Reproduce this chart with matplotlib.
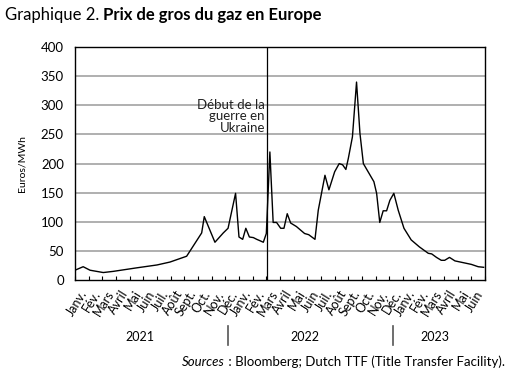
import matplotlib.pyplot as plt
from matplotlib.lines import Line2D

plt.rcParams['font.family'] = ['Lato', 'DejaVu Sans']

# months since Jan 2021 (fractional) and price in euros/MWh
month_pos = [0.1, 0.6, 1.1, 2.07, 2.8, 4.5, 6.0, 6.95, 8.17, 9.27, 9.46, 10.24, 10.85,
             11.2, 11.75, 12.0, 12.27, 12.5, 12.76, 13.05, 13.3, 13.5, 13.78, 14.0,
             14.26, 14.5, 14.75, 15.05, 15.29, 15.53, 15.78, 16.2, 16.8, 17.1, 17.56,
             17.8, 18.29, 18.58, 19.0, 19.33, 19.58, 19.82, 20.0, 20.3, 20.6, 20.85,
             21.1, 21.87, 22.07, 22.3, 22.55, 22.8, 23.04, 23.33, 23.65, 24.07, 24.6,
             25.2, 25.85, 26.1, 26.45, 26.8, 27.05, 27.4, 27.8, 28.4, 29.0, 29.5, 29.9]
prices = [18, 23, 17, 13, 15, 21, 26, 31, 41, 81, 109, 65, 81,
          89, 149, 74, 70, 89, 74, 73, 70, 68, 65, 80,
          220, 99, 99, 89, 89, 114, 98, 92, 80, 78, 70,
          120, 180, 155, 186, 200, 198, 190, 209, 246, 340, 252,
          200, 169, 149, 99, 119, 119, 137, 149, 120, 89, 69,
          57, 46, 45, 39, 34, 34, 39, 33, 30, 27, 23, 22]

months = ["Janv.", "Fév.", "Mars", "Avril", "Mai", "Juin", "Juil.", "Août",
          "Sept.", "Oct.", "Nov.", "Déc."]
month_labels = months + months + months[:6]
years = ["2021", "2022", "2023"]
year_pos = [4.75, 16.8, 26.3]
year_sep = [11.2, 23.3]
war_start = 14.05

fig = plt.figure(figsize=(5.10, 3.77), dpi=100)
ax = fig.add_axes([0.147, 0.257, 0.804, 0.618])

for yv in range(50, 400, 50):
    ax.axhline(yv, color="#9a9a9a", lw=1.1, zorder=1)
ax.plot(month_pos, prices, color="black", lw=1.0, zorder=3)
ax.axvline(war_start, color="black", lw=0.9, zorder=2)
ax.text(war_start - 0.15, 281, "Début de la\nguerre en\nUkraine", ha="right", va="center",
        multialignment="right", fontsize=9.5, linespacing=0.95, color="#222222")

ax.set_xlim(0, 30)
ax.set_ylim(0, 400)
ax.set_yticks(range(0, 401, 50))
ax.tick_params(axis="y", length=0, labelsize=9.5, pad=8)
ax.set_xticks(range(0, 31))
ax.set_xticklabels([])
ax.tick_params(axis="x", direction="in", length=3, width=0.8)
ax.set_ylabel("Euros/MWh", fontsize=7.5, labelpad=10)
for sp in ax.spines.values():
    sp.set_linewidth(1.0)

tr = ax.get_xaxis_transform()
for i, lab in enumerate(month_labels):
    ax.text(i + 0.3, -0.035, lab, transform=tr, rotation=58, ha="right", va="top",
            rotation_mode="anchor", fontsize=9)
for lab, xp in zip(years, year_pos):
    ax.text(xp, -0.245, lab, transform=tr, ha="center", va="center", fontsize=9)
for xp in year_sep:
    ax.add_line(Line2D([xp, xp], [-0.195, -0.28], transform=tr, color="#555555",
                       lw=1.2, clip_on=False))

fig.canvas.draw()
r = fig.canvas.get_renderer()
inv = fig.transFigure.inverted()

t1 = fig.text(0.01, 0.96, "Graphique 2.", fontsize=12, va="center", ha="left")
x1 = inv.transform(t1.get_window_extent(r))[1][0]
fig.text(x1 + 0.008, 0.96, "Prix de gros du gaz en Europe", fontsize=12, va="center",
         ha="left", fontweight="bold")

t2 = fig.text(0.99, 0.04, " : Bloomberg; Dutch TTF (Title Transfer Facility).", fontsize=9.5,
              ha="right", va="center")
x2 = inv.transform(t2.get_window_extent(r))[0][0]
fig.text(x2, 0.04, "Sources", fontsize=9.5, ha="right", va="center", style="italic")

fig.savefig("out.png", dpi=100)
